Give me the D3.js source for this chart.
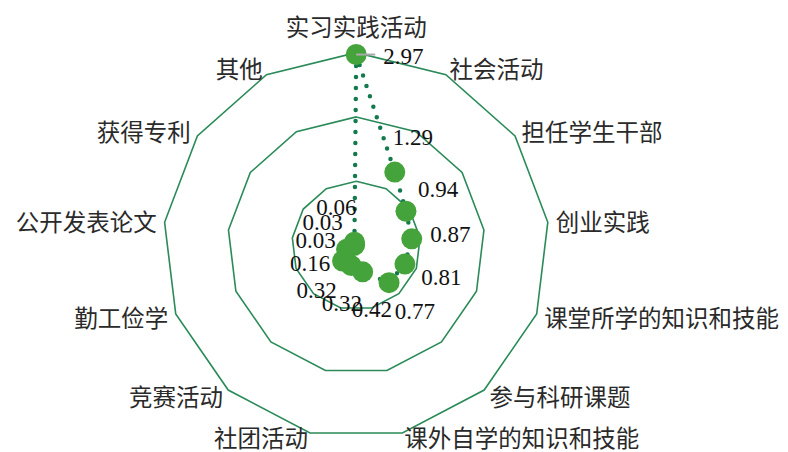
<!DOCTYPE html>
<html>
<head>
<meta charset="utf-8">
<script src="https://cdn.jsdelivr.net/npm/d3@7/dist/d3.min.js"></script>
<style>
  html, body { margin: 0; padding: 0; background: #fff; }
  svg { display: block; }
</style>
</head>
<body>
<svg id="chart" width="788" height="452"></svg>
<script>
// ---- data ----
const categories = ["实习实践活动", "社会活动", "担任学生干部", "创业实践", "课堂所学的知识和技能", "参与科研课题", "课外自学的知识和技能", "社团活动", "竞赛活动", "勤工俭学", "公开发表论文", "获得专利", "其他"];
const values = [2.97, 1.29, 0.94, 0.87, 0.81, 0.77, 0.42, 0.32, 0.32, 0.16, 0.03, 0.03, 0.06];
const ringTicks = [1, 2, 3];
const valueLabels = values.map(v => v.toFixed(2));

// ---- layout ----
const width = 788, height = 452;
const cx = 356.2, cy = 245.6, R = 193;
const n = categories.length;

const svg = d3.select("#chart");
const r = d3.scaleLinear().domain([0, 3]).range([0, R]);
const angle = d3.scaleLinear().domain([0, n]).range([0, 2 * Math.PI]);

function pt(i, rad) {
  const a = angle(i);
  return [cx + rad * Math.sin(a), cy - rad * Math.cos(a)];
}

// grid rings (13-gons)
const lineClosed = d3.line().curve(d3.curveLinearClosed);
svg.append("g").selectAll("path")
  .data(ringTicks)
  .join("path")
  .attr("d", t => lineClosed(d3.range(n).map(i => pt(i, r(t)))))
  .attr("fill", "none")
  .attr("stroke", "#2a8a58")
  .attr("stroke-width", 1.6);

// category labels
const gap = 8;
svg.append("g").selectAll("text")
  .data(categories)
  .join("text")
  .each(function(d, i) {
    const a = angle(i);
    const [x, y] = pt(i, R + gap);
    const s = Math.sin(a), c = Math.cos(a);
    let anchor = "middle";
    if (s > 0.05) anchor = "start";
    else if (s < -0.05) anchor = "end";
    let yy = y;
    if (c > 0.99) yy = y - 19;
    if (c < -0.9) yy = y - 4;
    d3.select(this)
      .attr("x", x)
      .attr("y", yy)
      .attr("text-anchor", anchor)
      .attr("dominant-baseline", "central");
  })
  .attr("font-family", "'Noto Sans CJK SC', 'Noto Sans', sans-serif")
  .attr("font-size", 23.5)
  .attr("fill", "#2a2a2a")
  .text(d => d);

// series line (dotted)
svg.append("path")
  .attr("d", lineClosed(values.map((v, i) => pt(i, r(v)))))
  .attr("fill", "none")
  .attr("stroke", "#137a4e")
  .attr("stroke-width", 4.5)
  .attr("stroke-linecap", "round")
  .attr("stroke-dasharray", "0,11");

// data points
svg.append("g").selectAll("circle")
  .data(values)
  .join("circle")
  .attr("cx", (v, i) => pt(i, r(v))[0])
  .attr("cy", (v, i) => pt(i, r(v))[1])
  .attr("r", 10.5)
  .attr("fill", "#45a33b");

// value labels
const labelGap = 39;
const lg = svg.append("g");
values.forEach((v, i) => {
  const [px, py] = pt(i, r(v));
  if (i === 0) {
    // first label moved aside with a leader line
    lg.append("line")
      .attr("x1", px).attr("y1", py)
      .attr("x2", px + 19).attr("y2", py)
      .attr("stroke", "#aaaaaa")
      .attr("stroke-width", 2);
    lg.append("text")
      .attr("x", px + 27).attr("y", py + 2)
      .attr("text-anchor", "start")
      .attr("dominant-baseline", "central")
      .attr("font-family", "'Liberation Serif', 'Times New Roman', serif")
      .attr("font-size", 23)
      .attr("fill", "#111")
      .text(valueLabels[i]);
  } else {
    const [lx, ly] = pt(i, r(v) + labelGap);
    lg.append("text")
      .attr("x", lx).attr("y", ly)
      .attr("text-anchor", "middle")
      .attr("dominant-baseline", "central")
      .attr("font-family", "'Liberation Serif', 'Times New Roman', serif")
      .attr("font-size", 23)
      .attr("fill", "#111")
      .text(valueLabels[i]);
  }
});
</script>
</body>
</html>
